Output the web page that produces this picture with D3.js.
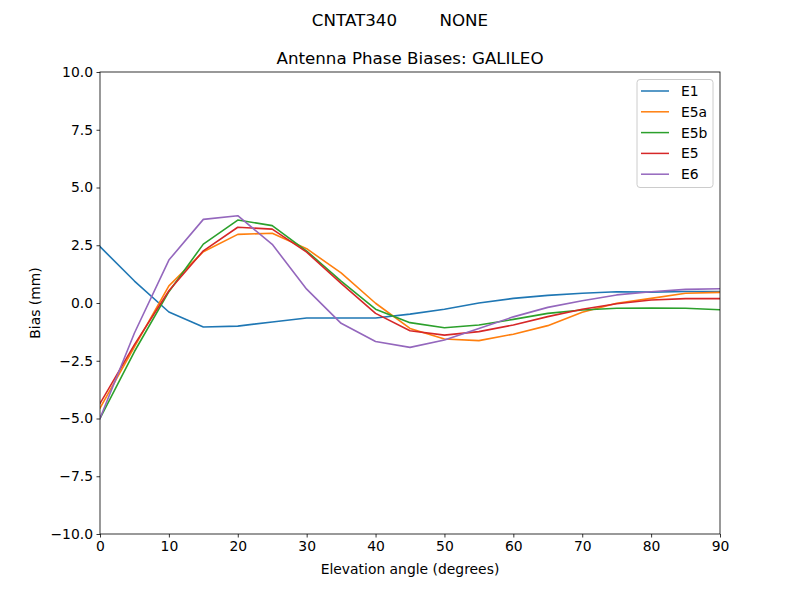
<!DOCTYPE html>
<html>
<head>
<meta charset="utf-8">
<script src="https://cdn.jsdelivr.net/npm/d3@7"></script>
<style>
body { margin: 0; background: #fff; }
text { font-family: "DejaVu Sans", sans-serif; }
</style>
</head>
<body>
<svg id="chart" width="800" height="600"></svg>
<script>
const elevations = [0,5,10,15,20,25,30,35,40,45,50,55,60,65,70,75,80,85,90];
const seriesNames = ["E1","E5a","E5b","E5","E6"];
const seriesColors = ["#1f77b4","#ff7f0e","#2ca02c","#d62728","#9467bd"];
const E1  = [2.44,0.95,-0.39,-1.04,-1.0,-0.82,-0.65,-0.65,-0.65,-0.48,-0.27,0.0,0.2,0.33,0.42,0.49,0.47,0.5,0.5];
const E5a = [-4.55,-1.9,0.74,2.22,2.97,3.02,2.35,1.3,-0.01,-1.1,-1.56,-1.63,-1.35,-0.98,-0.4,-0.01,0.2,0.42,0.46];
const E5b = [-5.0,-2.1,0.49,2.55,3.59,3.35,2.25,0.95,-0.27,-0.85,-1.07,-0.95,-0.71,-0.45,-0.3,-0.23,-0.22,-0.23,-0.29];
const E5  = [-4.35,-1.8,0.53,2.26,3.28,3.2,2.2,0.85,-0.45,-1.2,-1.39,-1.24,-0.95,-0.59,-0.27,-0.03,0.13,0.19,0.19];
const E6  = [-5.0,-1.3,1.86,3.62,3.78,2.54,0.6,-0.88,-1.67,-1.92,-1.6,-1.1,-0.6,-0.19,0.1,0.35,0.49,0.59,0.62];
const seriesValues = [E1,E5a,E5b,E5,E6];
const xTicks = [0,10,20,30,40,50,60,70,80,90];
const yTicks = [-10,-7.5,-5,-2.5,0,2.5,5,7.5,10];
const yTickLabels = ["\u221210.0","\u22127.5","\u22125.0","\u22122.5","0.0","2.5","5.0","7.5","10.0"];

const svg = d3.select("#chart");
const L = 100, R = 720, T = 72, B = 534;
const x = d3.scaleLinear().domain([0,90]).range([L,R]);
const y = d3.scaleLinear().domain([-10,10]).range([B,T]);

svg.append("text").attr("x",400).attr("y",26).attr("text-anchor","middle")
  .attr("font-size","16.7px").text("CNTAT340        NONE").attr("xml:space","preserve").style("white-space","pre");
svg.append("text").attr("x",410).attr("y",64).attr("text-anchor","middle")
  .attr("font-size","16.7px").text("Antenna Phase Biases: GALILEO");

const line = d3.line().x((d,i)=>x(elevations[i])).y(d=>y(d));
const g = svg.append("g");
g.append("defs").append("clipPath").attr("id","clip").append("rect")
  .attr("x",L).attr("y",T).attr("width",R-L).attr("height",B-T);
seriesValues.forEach((vals,k)=>{
  g.append("path").datum(vals).attr("d",line).attr("fill","none")
    .attr("stroke",seriesColors[k]).attr("stroke-width",1.6)
    .attr("stroke-linejoin","round").attr("stroke-linecap","square")
    .attr("clip-path","url(#clip)");
});

const xAxis = d3.axisBottom(x).tickValues(xTicks).tickSize(3.5).tickPadding(3.5).tickFormat(d3.format("d"));
const yAxis = d3.axisLeft(y).tickValues(yTicks).tickSize(3.5).tickPadding(3.5).tickFormat((d,i)=>yTickLabels[i]);
const gx = svg.append("g").attr("transform",`translate(0,${B})`).call(xAxis);
const gy = svg.append("g").attr("transform",`translate(${L},0)`).call(yAxis);
[gx,gy].forEach(a=>{
  a.select(".domain").remove();
  a.selectAll("line").attr("stroke","#000").attr("stroke-width",0.8);
  a.selectAll("text").attr("font-size","13.9px").attr("fill","#000").attr("font-family","DejaVu Sans, sans-serif");
});

svg.append("rect").attr("x",L).attr("y",T).attr("width",R-L).attr("height",B-T)
  .attr("fill","none").attr("stroke","#000").attr("stroke-width",0.8);

svg.append("text").attr("x",(L+R)/2).attr("y",574).attr("text-anchor","middle")
  .attr("font-size","13.9px").text("Elevation angle (degrees)");
svg.append("text").attr("transform",`translate(40,${(T+B)/2}) rotate(-90)`).attr("text-anchor","middle")
  .attr("font-size","13.9px").text("Bias (mm)");

// legend
const lg = svg.append("g");
lg.append("rect").attr("x",637).attr("y",79.5).attr("width",76).attr("height",108).attr("rx",3)
  .attr("fill","#fff").attr("fill-opacity",0.8).attr("stroke","#cccccc").attr("stroke-width",1);
seriesNames.forEach((n,k)=>{
  const yy = 91 + k*20.8;
  lg.append("line").attr("x1",641).attr("x2",669).attr("y1",yy).attr("y2",yy)
    .attr("stroke",seriesColors[k]).attr("stroke-width",1.5);
  lg.append("text").attr("x",681).attr("y",yy+5).attr("font-size","13.9px").text(n);
});
</script>
</body>
</html>
